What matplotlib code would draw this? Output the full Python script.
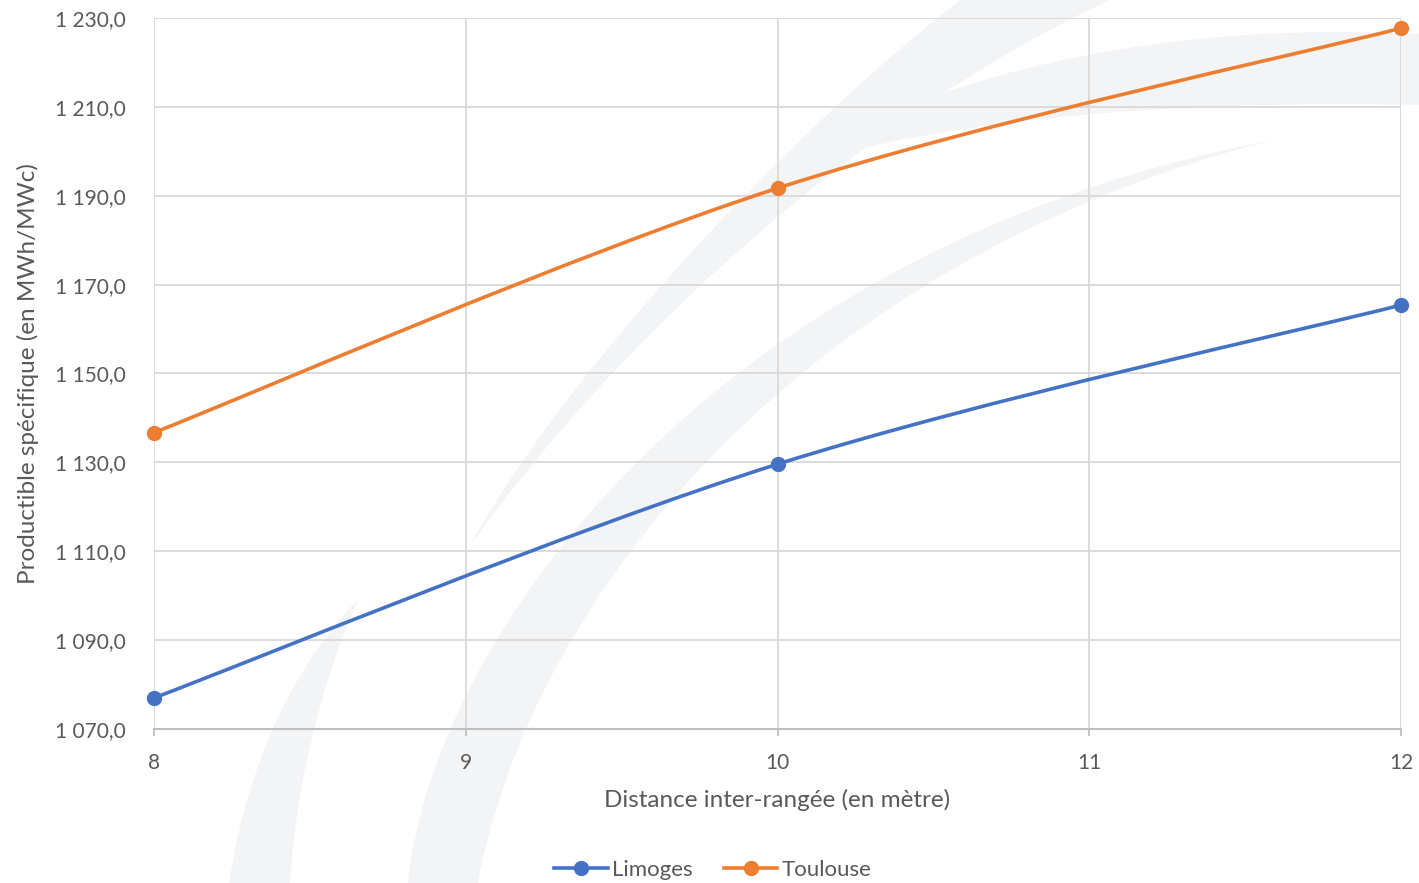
import numpy as np
import matplotlib.pyplot as plt
from matplotlib.path import Path
from matplotlib.patches import PathPatch
from matplotlib.lines import Line2D
from matplotlib.ticker import FuncFormatter

plt.rcParams['font.family'] = ['Lato', 'DejaVu Sans']

distance = [8, 10, 12]
limoges = [1077.0, 1129.6, 1165.4]
toulouse = [1136.7, 1191.7, 1227.7]

series = [("Limoges", limoges, "#4472C4"), ("Toulouse", toulouse, "#ED7D31")]

y_ticks = [1070, 1090, 1110, 1130, 1150, 1170, 1190, 1210, 1230]
x_ticks = [8, 9, 10, 11, 12]

TXT = "#595959"
GRID = "#d9d9d9"
MARK = "#f3f4f6"


def smooth_path(x, y):
    # bezier segments like a spreadsheet "smoothed line"
    p = np.column_stack([x, y]).astype(float)
    n = len(p)
    verts = [p[0]]
    codes = [Path.MOVETO]
    for i in range(n - 1):
        p0 = p[max(i - 1, 0)]
        p1 = p[i]
        p2 = p[i + 1]
        p3 = p[min(i + 2, n - 1)]
        c1 = p1 + (p2 - p0) / 6
        c2 = p2 - (p3 - p1) / 6
        verts += [c1, c2, p2]
        codes += [Path.CURVE4] * 3
    return Path(verts, codes)


def band(a, b):
    # closed shape from two cubic edges, a then b (pixel coords)
    verts = list(a) + list(b) + [a[0]]
    codes = ([Path.MOVETO] + [Path.CURVE4] * 3 + [Path.LINETO] + [Path.CURVE4] * 3
             + [Path.CLOSEPOLY])
    return Path(verts, codes)


fig = plt.figure(figsize=(14.19, 8.83), dpi=100)

# faint logo arcs in the background
bg = fig.add_axes([0, 0, 1, 1], zorder=0)
bg.set_xlim(0, 1419)
bg.set_ylim(883, 0)
bg.axis("off")
shapes = [
    ([(229, 883), (250, 750), (300, 660), (359, 598)],
     [(359, 598), (318, 690), (296, 790), (290, 883)]),
    ([(408, 883), (430, 650), (700, 250), (1273, 140)],
     [(1273, 140), (800, 260), (530, 600), (478, 883)]),
    ([(468, 549), (560, 380), (780, 140), (960, 0)],
     [(1110, 0), (850, 120), (600, 360), (468, 549)]),
    ([(783, 170), (950, 60), (1200, 22), (1419, 34)],
     [(1419, 105), (1200, 100), (950, 115), (783, 170)]),
]
for a, b in shapes:
    bg.add_patch(PathPatch(band(a, b), facecolor=MARK, edgecolor="none"))

ax = fig.add_axes([154 / 1419, 1 - 729 / 883, (1401 - 154) / 1419, (729 - 18) / 883], zorder=1)
ax.set_facecolor("none")

for name, vals, col in series:
    ax.add_patch(PathPatch(smooth_path(distance, vals), facecolor="none", edgecolor=col,
                           lw=2.6, capstyle="round", zorder=3))
    ax.plot(distance, vals, ls="none", marker="o", ms=10, color=col, zorder=4, clip_on=False)

ax.set_xlim(8, 12)
ax.set_ylim(1070, 1230)
ax.set_xticks(x_ticks)
ax.set_yticks(y_ticks)
ax.yaxis.set_major_formatter(FuncFormatter(lambda v, p: "1 %03d,0" % (v - 1000)))
ax.grid(True, color=GRID, lw=1.3)
ax.set_axisbelow(True)
for s in ["top", "right", "left"]:
    ax.spines[s].set_visible(False)
ax.spines["bottom"].set_color("#bfbfbf")
ax.spines["bottom"].set_linewidth(1.5)
ax.tick_params(axis="x", length=5, width=1.3, color="#bfbfbf", pad=12, labelsize=15, labelcolor=TXT)
ax.tick_params(axis="y", length=0, pad=20, labelsize=15, labelcolor=TXT)

ax.set_xlabel("Distance inter-rangée (en mètre)", fontsize=17.5, color=TXT, labelpad=12)
ax.set_ylabel("Productible spécifique (en MWh/MWc)", fontsize=17.5, color=TXT, labelpad=12)

handles = [Line2D([], [], color=c, lw=2.6, marker="o", ms=10) for _, _, c in series]
fig.legend(handles, [n for n, _, _ in series], loc="center", bbox_to_anchor=(713 / 1419, 1 - 870 / 883),
           ncol=2, frameon=False, fontsize=16, labelcolor=TXT, handlelength=2.4,
           handletextpad=0.2, columnspacing=1.4)

fig.savefig("out.png", dpi=100)
